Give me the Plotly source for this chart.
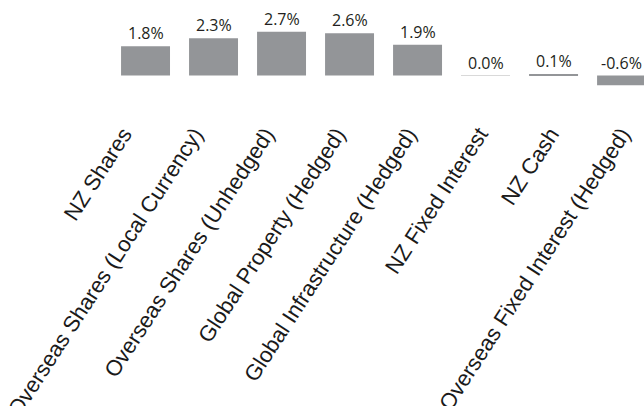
import plotly.graph_objects as go

categories = ["NZ Shares", "Overseas Shares (Local Currency)", "Overseas Shares (Unhedged)",
              "Global Property (Hedged)", "Global Infrastructure (Hedged)", "NZ Fixed Interest",
              "NZ Cash", "Overseas Fixed Interest (Hedged)"]
values = [1.8, 2.3, 2.7, 2.6, 1.9, 0.0, 0.1, -0.6]
value_labels = ["1.8%", "2.3%", "2.7%", "2.6%", "1.9%", "0.0%", "0.1%", "-0.6%"]

bar_color = "#939598"
line_colors = [bar_color if v != 0 else "#d9d9d9" for v in values]
line_widths = [0 if v != 0 else 1 for v in values]
idx = list(range(len(categories)))

fig = go.Figure()
fig.add_trace(go.Bar(
    x=idx, y=values,
    marker=dict(color=bar_color, line=dict(color=line_colors, width=line_widths)),
    hoverinfo="skip",
))
# helper trace so the label axis is drawn
fig.add_trace(go.Scatter(x=idx, y=[None] * len(idx), xaxis="x2", mode="markers",
                         showlegend=False, hoverinfo="skip"))

for i, (v, t) in enumerate(zip(values, value_labels)):
    fig.add_annotation(x=i, y=max(v, 0), text=t, showarrow=False,
                       yanchor="bottom", xanchor="center", yshift=0,
                       font=dict(family="Open Sans", size=16, color="#231f20"))

fig.update_layout(
    width=644, height=406,
    margin=dict(l=0, r=0, t=0, b=290, autoexpand=False),
    paper_bgcolor="white", plot_bgcolor="white",
    showlegend=False, bargap=0.28,
    xaxis=dict(range=[-2.14, 7.33], showticklabels=False, showgrid=False,
               zeroline=False, showline=False, ticks="", automargin=False),
    xaxis2=dict(range=[-1.735, 7.31], overlaying="x", anchor="y", side="bottom",
                tickmode="array", tickvals=idx, ticktext=categories,
                tickangle=-57, showgrid=False, zeroline=False, showline=False,
                ticks="", automargin=False,
                tickfont=dict(family="Liberation Sans", size=22, color="#1a1a1a")),
    yaxis=dict(range=[-2.5, 4.66], visible=False, showgrid=False, zeroline=False),
)

fig.write_html("out.html")
